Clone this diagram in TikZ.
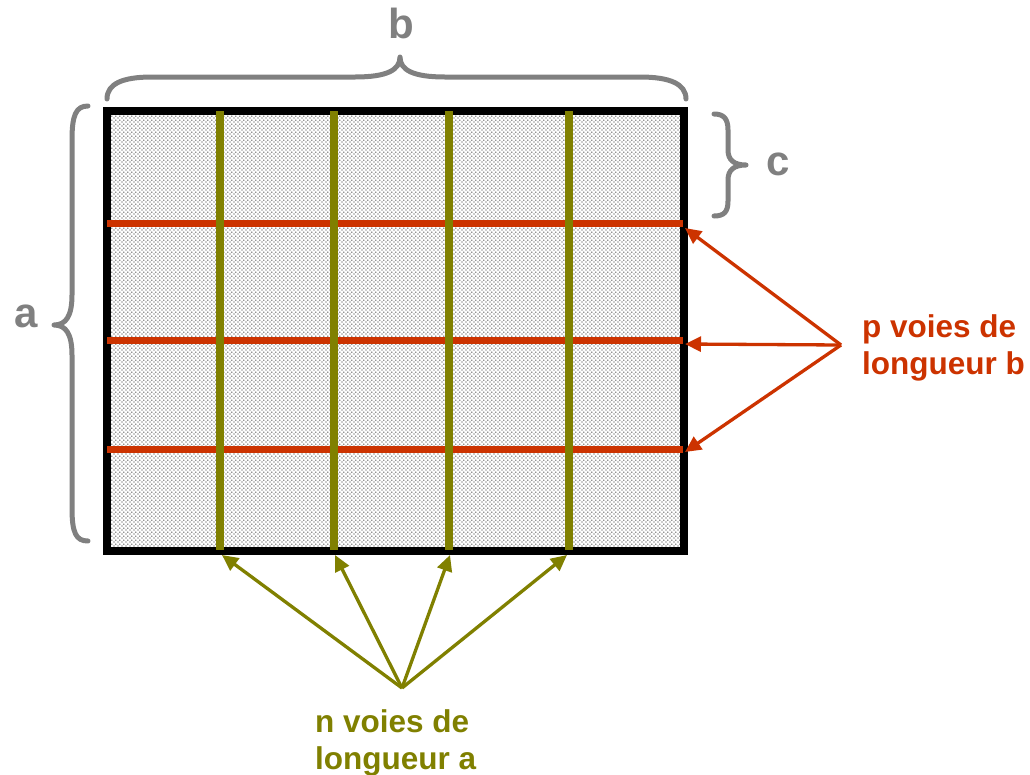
\documentclass[tikz,border=0pt]{standalone}
\usepackage{fontspec}
\setmainfont{Liberation Sans}
\usetikzlibrary{patterns.meta,arrows.meta}
\definecolor{myred}{HTML}{CC3300}
\definecolor{myolive}{HTML}{808000}
\definecolor{mygray}{HTML}{808080}
\tikzdeclarepattern{name=fielddots, type=uncolored,
  bounding box={(0pt,0pt) and (4.4pt,4.4pt)},
  tile size={(4.4pt,4.4pt)},
  code={\fill (1.1pt,1.1pt) circle (0.75pt); \fill (3.3pt,3.3pt) circle (0.75pt);}}
\tikzset{
  field/.style={pattern=fielddots, pattern color=black!85},
  border/.style={draw=black, line width=7.5pt, line join=miter},
  redway/.style={draw=myred, line width=7pt},
  oliveway/.style={draw=myolive, line width=8pt},
  redarrow/.style={draw=myred, line width=3.3pt, -{Triangle[length=16pt,width=15pt]}},
  olivearrow/.style={draw=myolive, line width=3.3pt, -{Triangle[length=16pt,width=15pt]}},
  bracestyle/.style={draw=mygray, line width=5pt, line cap=round, line join=round},
  dimlabel/.style={text=mygray, font=\fontsize{42}{48}\selectfont\bfseries, inner sep=0pt},
  redlabel/.style={text=myred, font=\fontsize{31.5}{37}\selectfont\bfseries, align=left, inner sep=0pt},
  olivelabel/.style={text=myolive, font=\fontsize{31.5}{37}\selectfont\bfseries, align=left, inner sep=0pt}
}
\begin{document}
\begin{tikzpicture}[x=1pt,y=-1pt]
\useasboundingbox (0,0) rectangle (1030,774);
% field
\path[field] (107,111) rectangle (684,551);
\draw[border] (107,111) rectangle (684,551);
% red ways
\coordinate (r1w) at (107,223); \coordinate (r1e) at (683,223);
\coordinate (r2w) at (107,340); \coordinate (r2e) at (683,340);
\coordinate (r3w) at (107,449); \coordinate (r3e) at (683,449);
\draw[redway] (r1w) -- (r1e);
\draw[redway] (r2w) -- (r2e);
\draw[redway] (r3w) -- (r3e);
% olive ways
\coordinate (o1n) at (220,111); \coordinate (o1s) at (220,550);
\coordinate (o2n) at (334,111); \coordinate (o2s) at (334,550);
\coordinate (o3n) at (449,111); \coordinate (o3s) at (449,550);
\coordinate (o4n) at (569,111); \coordinate (o4s) at (569,550);
\draw[oliveway] (o1n) -- (o1s);
\draw[oliveway] (o2n) -- (o2s);
\draw[oliveway] (o3n) -- (o3s);
\draw[oliveway] (o4n) -- (o4s);
% braces
\draw[bracestyle] (107,99) .. controls (107,84) and (122,77) .. (152,77) -- (355,77)
  .. controls (387,77) and (400,70) .. (400,57)
  .. controls (400,70) and (413,77) .. (445,77) -- (640,77)
  .. controls (670,77) and (686,84) .. (686,99);
\draw[bracestyle] (88,106) .. controls (76,106) and (72,115) .. (72,140) -- (72,295)
  .. controls (72,316) and (66,325) .. (54,325)
  .. controls (66,325) and (72,334) .. (72,355) -- (72,508)
  .. controls (72,533) and (76,541) .. (88,541);
\draw[bracestyle] (714,114) .. controls (724,114) and (728,119) .. (728,130) -- (728,150)
  .. controls (728,160) and (734,165) .. (746,165)
  .. controls (734,165) and (728,170) .. (728,180) -- (728,201)
  .. controls (728,212) and (724,216) .. (714,216);
\node[dimlabel, anchor=base] (lb) at (401,38) {b};
\node[dimlabel, anchor=base] (la) at (26,327) {a};
\node[dimlabel, anchor=base] (lc) at (778,175) {c};
% red arrows
\coordinate (rapex) at (841,345);
\coordinate (rt1) at (685,228);
\coordinate (rt2) at (685,344);
\coordinate (rt3) at (685,452);
\draw[redarrow] (rapex) -- (rt1);
\draw[redarrow] (rapex) -- (rt2);
\draw[redarrow] (rapex) -- (rt3);
\node[redlabel, anchor=north west] (ptext) at (862,314) {p voies de\\longueur b};
% olive arrows
\coordinate (oapex) at (402,688);
\coordinate (ot1) at (222,555);
\coordinate (ot2) at (335,555);
\coordinate (ot3) at (450,555);
\coordinate (ot4) at (567,555);
\draw[olivearrow] (oapex) -- (ot1);
\draw[olivearrow] (oapex) -- (ot2);
\draw[olivearrow] (oapex) -- (ot3);
\draw[olivearrow] (oapex) -- (ot4);
\node[olivelabel, anchor=north west] (ntext) at (315,709) {n voies de\\longueur a};
\end{tikzpicture}
\end{document}
